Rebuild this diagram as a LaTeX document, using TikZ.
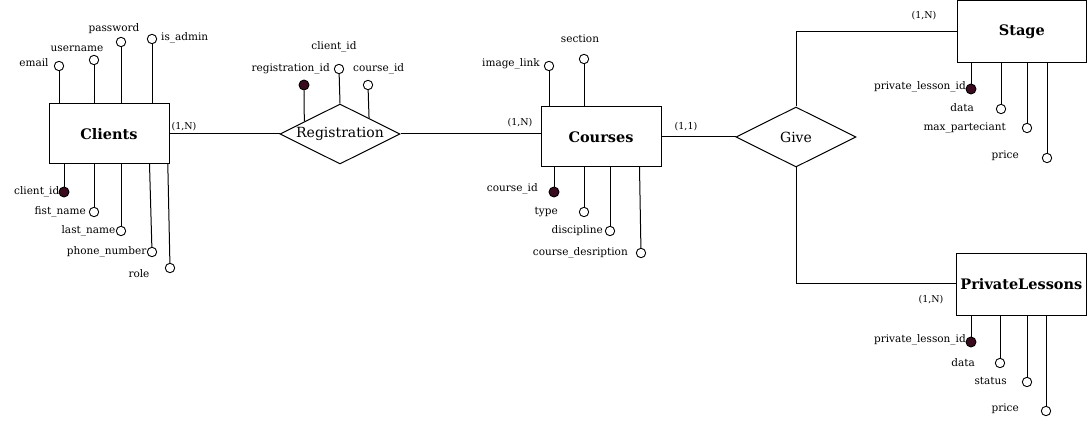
\documentclass[tikz,border=0pt]{standalone}
\usepackage{fontspec}
\setmainfont{DejaVu Serif}
\usetikzlibrary{shapes.geometric,calc}
\definecolor{keyfill}{HTML}{3A0A1E}
\begin{document}
\begin{tikzpicture}[x=1pt,y=-1pt,
  every node/.style={inner sep=0pt},
  conn/.style={line width=1pt},
  ent/.style={draw,line width=1pt,inner sep=0pt,font=\fontsize{14.5}{16}\selectfont\bfseries},
  rel/.style={diamond,draw,line width=1pt,minimum width=120pt,minimum height=60pt,inner sep=0pt},
  reltext/.style={font=\fontsize{14}{16}\selectfont},
  attr/.style={circle,draw,fill=white,minimum size=9.4pt,inner sep=0pt,line width=0.9pt},
  keyattr/.style={circle,draw,fill=keyfill,minimum size=10pt,inner sep=0pt,line width=0.9pt},
  lbl/.style={font=\fontsize{10.5}{12}\selectfont},
  card/.style={font=\fontsize{9.5}{11}\selectfont}]
\useasboundingbox (0,0) rectangle (1087,425);

% entities
\node[ent,minimum width=120pt,minimum height=60pt] (cli) at (109,134) {Clients};
\node[ent,minimum width=120pt,minimum height=60pt] (cou) at (601,137) {Courses};
\node[ent,minimum width=129.5pt,minimum height=61.8pt] (stg) at (1021.8,31.4) {Stage};
\node[ent,minimum width=130.7pt,minimum height=62.4pt] (pl) at (1021.4,284.5) {PrivateLessons};

% relationships
\node[rel] (reg) at (340,134) {};
\node[reltext] (regt) at (340,134) {Registration};
\node[rel] (give) at (796,137) {};
\node[reltext] (givet) at (796,137) {Give};

% relationship connectors
\coordinate (cliR) at (cli.east |- reg.west);
\coordinate (couL) at (cou.west |- reg.east);
\draw[conn] (cliR) -- (reg.west);
\draw[conn] (reg.east) -- (couL);
\coordinate (couR) at (cou.east |- give.west);
\draw[conn] (couR) -- (give.west);
\coordinate (gUp) at (796,32);
\coordinate (gDown) at (796,283);
\draw[conn] (give.north) -- (gUp) -- (gUp -| stg.west);
\draw[conn] (give.south) -- (gDown) -- (gDown -| pl.west);

% cardinalities
\node[card] (c1) at (184,127) {(1,N)};
\node[card] (c2) at (520,123) {(1,N)};
\node[card] (c3) at (686,127) {(1,1)};
\node[card] (c4) at (924,16) {(1,N)};
\node[card] (c5) at (931,300) {(1,N)};

% ---------- Clients attributes
\node[attr] (email) at (59,66) {};
\node[attr] (uname) at (94,60) {};
\node[attr] (pwd) at (121,42) {};
\node[attr] (adm) at (152,39) {};
\draw[conn] (email) -- (email |- cli.north);
\draw[conn] (uname) -- (uname |- cli.north);
\draw[conn] (pwd) -- (pwd |- cli.north);
\draw[conn] (adm) -- (adm |- cli.north);
\node[lbl] (lemail) at (34,63) {email};
\node[lbl] (luname) at (77,49) {username};
\node[lbl] (lpwd) at (114,29) {password};
\node[lbl,anchor=west] (ladm) at (161,38) {is\_admin};

\node[keyattr] (cid) at (64,192) {};
\node[attr] (fname) at (94,212) {};
\node[attr] (lname) at (121,231) {};
\node[attr] (phone) at (152,252) {};
\node[attr] (role) at (170,268) {};
\coordinate (phoneTop) at (149.5,164);
\coordinate (roleTop) at (167.8,164);
\draw[conn] (cid) -- (cid |- cli.south);
\draw[conn] (fname) -- (fname |- cli.south);
\draw[conn] (lname) -- (lname |- cli.south);
\draw[conn] (phone) -- (phoneTop);
\draw[conn] (role) -- (roleTop);
\node[lbl,anchor=east] (lcid) at (59.5,192) {client\_id};
\node[lbl,anchor=east] (lfname) at (86,212) {fist\_name};
\node[lbl,anchor=east] (llname) at (115.5,231) {last\_name};
\node[lbl,anchor=east] (lphone) at (146.5,252) {phone\_number};
\node[lbl] (lrole) at (139,274) {role};

% ---------- Registration attributes
\node[keyattr] (rid) at (304,85) {};
\node[attr] (rcid) at (339,69) {};
\node[attr] (rcoid) at (368,85) {};
\coordinate (ridB) at ($(reg.west)!0.41!(reg.north)$);
\coordinate (rcoidB) at ($(reg.north)!0.48!(reg.east)$);
\draw[conn] (rid) -- (ridB);
\draw[conn] (rcid) -- (reg.north);
\draw[conn] (rcoid) -- (rcoidB);
\node[lbl,anchor=east] (lrid) at (330,69) {registration\_id};
\node[lbl] (lrcid) at (334,47) {client\_id};
\node[lbl,anchor=west] (lrcoid) at (353,69) {course\_id};

% ---------- Courses attributes
\node[attr] (img) at (549,66) {};
\node[attr] (sec) at (584,59) {};
\draw[conn] (img) -- (img |- cou.north);
\draw[conn] (sec) -- (sec |- cou.north);
\node[lbl,anchor=east] (limg) at (540,64) {image\_link};
\node[lbl] (lsec) at (580,39) {section};

\node[keyattr] (coid) at (554,192) {};
\node[attr] (type) at (584,212) {};
\node[attr] (disc) at (610,231) {};
\node[attr] (desc) at (641,253) {};
\draw[conn] (coid) -- (coid |- cou.south);
\draw[conn] (type) -- (type |- cou.south);
\draw[conn] (disc) -- (disc |- cou.south);
\coordinate (descTop) at (639.5,167);
\draw[conn] (desc) -- (descTop);
\node[lbl,anchor=east] (lcoid) at (538,189) {course\_id};
\node[lbl,anchor=east] (ltype) at (558,212) {type};
\node[lbl,anchor=east] (ldisc) at (603,231) {discipline};
\node[lbl,anchor=east] (ldesc) at (628,253) {course\_desription};

% ---------- Stage attributes
\node[keyattr] (splid) at (971,89) {};
\node[attr] (sdata) at (1001,109) {};
\node[attr] (smax) at (1027,128) {};
\node[attr] (sprice) at (1047,158) {};
\draw[conn] (splid) -- (splid |- stg.south);
\draw[conn] (sdata) -- (sdata |- stg.south);
\draw[conn] (smax) -- (smax |- stg.south);
\draw[conn] (sprice) -- (sprice |- stg.south);
\node[lbl,anchor=east] (lsplid) at (966,87) {private\_lesson\_id};
\node[lbl,anchor=east] (lsdata) at (974,108) {data};
\node[lbl,anchor=east] (lsmax) at (1006,128) {max\_parteciant};
\node[lbl,anchor=east] (lsprice) at (1019,156) {price};

% ---------- PrivateLessons attributes
\node[keyattr] (pplid) at (971,342) {};
\node[attr] (pdata) at (1000,363) {};
\node[attr] (pstat) at (1027,382) {};
\node[attr] (pprice) at (1046,411) {};
\draw[conn] (pplid) -- (pplid |- pl.south);
\draw[conn] (pdata) -- (pdata |- pl.south);
\draw[conn] (pstat) -- (pstat |- pl.south);
\draw[conn] (pprice) -- (pprice |- pl.south);
\node[lbl,anchor=east] (lpplid) at (966,340) {private\_lesson\_id};
\node[lbl,anchor=east] (lpdata) at (975,363) {data};
\node[lbl,anchor=east] (lpstat) at (1007,381) {status};
\node[lbl,anchor=east] (lpprice) at (1019,409) {price};
\end{tikzpicture}
\end{document}
